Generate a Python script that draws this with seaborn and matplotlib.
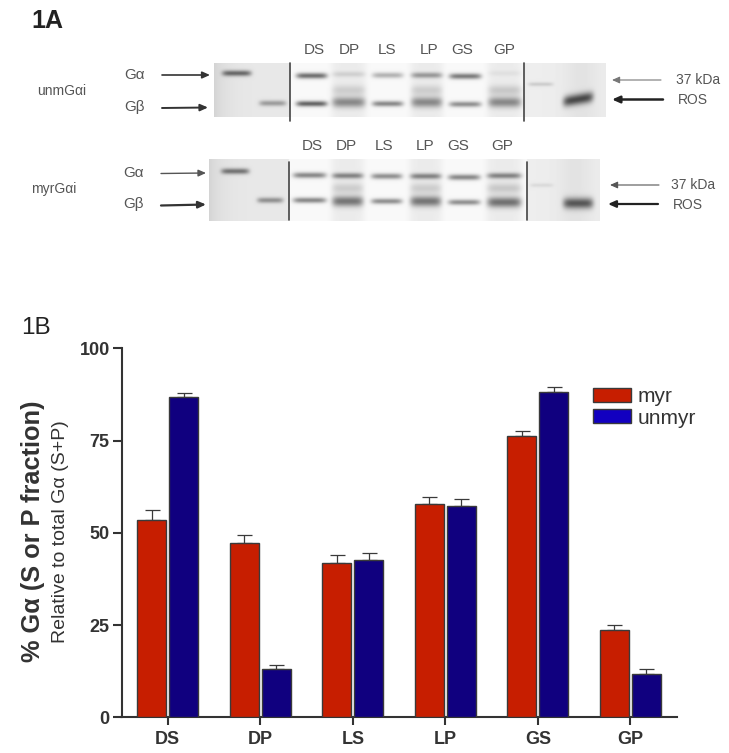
import numpy as np
import pandas as pd
import matplotlib
matplotlib.use('Agg')
import matplotlib.pyplot as plt
import seaborn as sns

# panel B values
fractions = ['DS', 'DP', 'LS', 'LP', 'GS', 'GP']
myr_mean = [53.5, 47.3, 41.9, 57.9, 76.2, 23.6]
myr_err = [2.7, 2.1, 2.0, 1.9, 1.4, 1.4]
unmyr_mean = [86.9, 13.0, 42.6, 57.3, 88.1, 11.8]
unmyr_err = [1.1, 1.2, 2.0, 1.8, 1.5, 1.4]

# panel A band strengths, one per lane
gel_lanes = ['Ga', 'Gb', 'DS', 'DP', 'LS', 'LP', 'GS', 'GP', '37', 'ROS']
unm_alpha = [.55, 0, .55, .12, .28, .36, .5, .05, .14, 0]
unm_beta = [0, .33, .6, .42, .45, .42, .42, .42, 0, .68]
unm_smear = [0, 0, 0, .13, 0, .13, 0, .15, 0, 0]
myr_alpha = [.5, 0, .45, .45, .42, .45, .45, .45, .08, 0]
myr_beta = [0, .38, .45, .5, .42, .5, .42, .52, 0, .62]
myr_smear = [0, 0, 0, .13, 0, .13, 0, .15, 0, 0]

W, H = 729, 753
sns.set_style('ticks')
plt.rcParams['font.family'] = ['Liberation Sans', 'DejaVu Sans']

fig = plt.figure(figsize=(W / 100, H / 100), dpi=100)

# bar chart
ax = fig.add_axes([121.5 / W, (H - 717.3) / H, 555.2 / W, 369 / H])
df = pd.DataFrame({
    'fraction': fractions * 2,
    'value': myr_mean + unmyr_mean,
    'kind': ['myr'] * 6 + ['unmyr'] * 6,
})
sns.barplot(data=df, x='fraction', y='value', hue='kind', ax=ax,
            palette={'myr': '#c71e00', 'unmyr': '#10007f'},
            width=0.69, gap=0.09, saturation=1, errorbar=None,
            edgecolor='#3a3a3a', linewidth=1, zorder=3)
for cont, mean, err in zip(ax.containers, [myr_mean, unmyr_mean], [myr_err, unmyr_err]):
    xs = [p.get_x() + p.get_width() / 2 for p in cont.patches]
    ax.errorbar(xs, mean, yerr=[np.zeros(6), err], fmt='none', ecolor='#3a3a3a',
                elinewidth=0.9, capsize=5.4, capthick=0.9, zorder=2)

ax.set_xlim(-0.5, 5.5)
ax.set_ylim(0, 100)
ax.set_yticks([0, 25, 50, 75, 100])
ax.set_xlabel('')
ax.set_ylabel('')
sns.despine(ax=ax)
for side in ['left', 'bottom']:
    ax.spines[side].set_linewidth(1.5)
    ax.spines[side].set_color('#333333')
ax.tick_params(axis='y', length=6.5, width=1.5, color='#333333', pad=2, labelsize=13, labelcolor='#333333')
ax.tick_params(axis='x', length=6, width=1.5, color='#333333', pad=4, labelsize=13, labelcolor='#333333')
for t in ax.get_xticklabels() + ax.get_yticklabels():
    t.set_fontweight('bold')

leg = ax.legend(loc='upper left', bbox_to_anchor=(0.849, 0.895), frameon=False, fontsize=15,
                handlelength=1.83, handleheight=0.64, labelspacing=0.12,
                handletextpad=0.3, borderpad=0, borderaxespad=0, labelcolor='#333333')
leg.legend_handles[1].set_facecolor('#1200c0')

# everything else is placed in pixel coordinates of the reference
ov = fig.add_axes([0, 0, 1, 1], zorder=5)
ov.set_xlim(0, W)
ov.set_ylim(H, 0)
ov.axis('off')
ov.patch.set_alpha(0)


def gel(extent, dividers, lane_x, alpha_y, beta_y, smear_y, mark_y, alpha, beta, smear, tilt):
    x0, x1, y0, y1 = extent
    xx, yy = np.meshgrid(np.arange(x0, x1, 0.5), np.arange(y0, y1, 0.5))
    bg = np.where(xx < dividers[0], 0.91, np.where(xx < dividers[1], 0.975, 0.93))
    bg = bg - 0.08 * np.exp(-(xx - x0) / 12) - 0.04 * np.exp(-(xx - x1 + 25) ** 2 / 300)
    dark = np.zeros_like(xx)
    for i, (a, b) in enumerate(lane_x):
        mid = (a + b) / 2
        half = (b - a) / 2
        prof = np.exp(-np.abs((xx - mid) / half) ** 6)
        thick = 2.8
        if smear[i] > 0:
            thick = 5.2
            bg = bg - 0.05 * np.exp(-np.abs((xx - mid) / (half + 1)) ** 6)
            dark += smear[i] * prof * np.exp(-((yy - smear_y) / 5) ** 2)
        if gel_lanes[i] == 'ROS':
            thick = 5.5
        if gel_lanes[i] == '37':
            dark += alpha[i] * prof * np.exp(-((yy - mark_y) / 2) ** 2)
        else:
            dark += alpha[i] * prof * np.exp(-((yy - alpha_y[i]) / 2.9) ** 2)
        shift = tilt[i] * (xx - mid) / half
        dark += beta[i] * prof * np.exp(-((yy - beta_y[i] - shift) / thick) ** 2)
    img = bg * (1 - np.clip(dark, 0, 0.9))
    ov.imshow(img, cmap='gray', vmin=0, vmax=1, extent=[x0, x1, y1, y0],
              aspect='auto', interpolation='bilinear', zorder=1)
    ov.set_xlim(0, W)
    ov.set_ylim(H, 0)


gel((214, 606, 63, 117), (290, 524),
    [(222, 251), (259, 286), (296, 327), (332, 365), (372, 403), (411, 442), (449, 481), (488, 521), (528, 553), (563, 593)],
    [73, 0, 75.5, 74, 75, 75, 76, 73, 0, 0], [0, 103, 103.5, 102, 103.5, 102, 104, 102, 0, 99],
    90, 84, unm_alpha, unm_beta, unm_smear, [0, 0, 0, 0, 0, 0, 0, 0, 0, -2.5])
gel((209, 600, 159, 221), (289, 527),
    [(221, 249), (257, 283), (293, 326), (332, 363), (371, 402), (410, 441), (448, 480), (487, 521), (530, 553), (563, 593)],
    [171, 0, 175, 175.5, 176, 176, 177, 175.5, 0, 0], [0, 200, 200, 201, 201, 201, 202, 202, 0, 203],
    188, 185, myr_alpha, myr_beta, myr_smear, [0] * 10)

for x, y0, y1 in [(290, 63, 121), (523.7, 63, 121), (289, 162, 220), (527.3, 162, 220)]:
    ov.plot([x, x], [y0, y1], color='#444444', lw=1.2, zorder=2)


def arrow(x0, y0, x1, y1, lw, color='#333333'):
    ov.annotate('', xy=(x1, y1), xytext=(x0, y0),
                arrowprops=dict(arrowstyle='-|>,head_length=0.45,head_width=0.2', color=color,
                                lw=lw, shrinkA=0, shrinkB=0))


arrow(162, 75, 210, 75, 1.2)
arrow(162, 108, 208, 107.5, 1.4)
arrow(161, 173.5, 206, 173, 1.0, '#555555')
arrow(161, 205.5, 206, 204.5, 1.6)
arrow(661, 80, 612, 80, 0.8, '#777777')
arrow(663, 99.5, 612, 99.5, 1.8, '#222222')
arrow(659, 185, 610, 185, 0.8, '#555555')
arrow(658, 204, 608, 204, 1.6, '#222222')

gel_text = dict(color='#555555', ha='center', va='center', zorder=3)
for x, name in zip([314, 349, 387, 429, 462, 504], fractions):
    ov.text(x, 50, name, fontsize=11, **gel_text)
for x, name in zip([312, 346, 384, 425, 458, 502], fractions):
    ov.text(x, 145.5, name, fontsize=11, **gel_text)
for x, y, s in [(135, 75, 'Gα'), (135, 107, 'Gβ'), (134, 172.5, 'Gα'), (134, 203.5, 'Gβ')]:
    ov.text(x, y, s, fontsize=11, **gel_text)
ov.text(62, 90.5, 'unmGαi', fontsize=10, **gel_text)
ov.text(54, 189, 'myrGαi', fontsize=10, **gel_text)
ov.text(698, 80, '37 kDa', fontsize=10, **gel_text)
ov.text(693, 100, 'ROS', fontsize=10, **gel_text)
ov.text(693, 185, '37 kDa', fontsize=10, **gel_text)
ov.text(688, 205, 'ROS', fontsize=10, **gel_text)

ov.text(47, 21, '1A', fontsize=18, fontweight='bold', color='#222222', ha='center', va='center')
ov.text(36, 328, '1B', fontsize=17.5, fontweight='normal', color='#222222', ha='center', va='center')

ov.text(33, 531, '% Gα (S or P fraction)', rotation=90, fontsize=18.3, fontweight='bold',
        color='#333333', ha='center', va='center')
ov.text(61, 532, 'Relative to total Gα (S+P)', rotation=90, fontsize=14, fontweight='normal',
        color='#333333', ha='center', va='center')

fig.savefig('out.png', dpi=100)
